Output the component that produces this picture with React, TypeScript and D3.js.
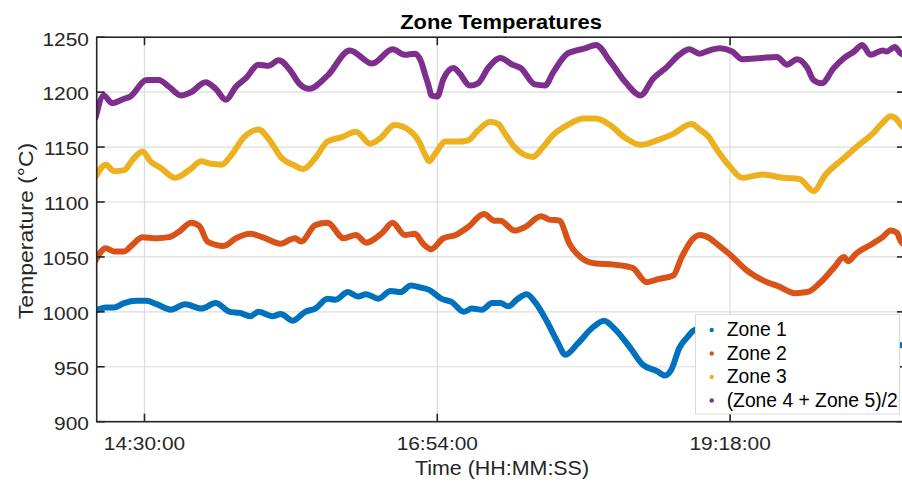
import React from "react";
import * as d3 from "d3";

// ---------- data ----------
const title = "Zone Temperatures";
const xLabel = "Time (HH:MM:SS)";
const yLabel = "Temperature (°C)";
const xTickLabels = ["14:30:00", "16:54:00", "19:18:00"];
const yTicks = [900, 950, 1000, 1050, 1100, 1150, 1200, 1250];
const xDomain = ["14:06:30", "20:44:01"];
const yDomain = [900, 1250];
const seriesNames = ["Zone 1", "Zone 2", "Zone 3", "(Zone 4 + Zone 5)/2"];
const seriesColors = ["#0072BD", "#D95319", "#EDB120", "#7E2F8E"];

const zone1: [string, number][] = [
  ["14:06", 1001], ["14:11", 1004], ["14:15", 1004], ["14:20", 1008], ["14:26", 1010],
  ["14:31", 1010], ["14:36", 1007], ["14:43", 1002], ["14:50", 1007], ["14:58", 1003],
  ["15:05", 1008], ["15:12", 1000], ["15:17", 999], ["15:22", 996], ["15:26", 1000],
  ["15:33", 996], ["15:37", 998], ["15:43", 992], ["15:49", 1000], ["15:54", 1003],
  ["16:00", 1012], ["16:04", 1011], ["16:10", 1018], ["16:15", 1014], ["16:19", 1016],
  ["16:25", 1012], ["16:31", 1019], ["16:36", 1018], ["16:41", 1024], ["16:46", 1022],
  ["16:50", 1020], ["16:56", 1012], ["17:01", 1009], ["17:07", 1000], ["17:11", 1003],
  ["17:16", 1002], ["17:21", 1008], ["17:25", 1008], ["17:29", 1005], ["17:33", 1011],
  ["17:38", 1016], ["17:42", 1009], ["17:48", 991], ["17:53", 973], ["17:57", 961],
  ["18:03", 971], ["18:10", 985], ["18:16", 992], ["18:21", 985], ["18:29", 967],
  ["18:35", 952], ["18:42", 946], ["18:46", 942], ["18:49", 947], ["18:53", 967],
  ["18:57", 977], ["19:00", 983], ["19:06", 986], ["19:14", 987], ["19:25", 986],
  ["19:40", 982], ["19:55", 978], ["20:10", 975], ["20:25", 972], ["20:40", 970],
  ["20:45", 969],
];

const zone2: [string, number][] = [
  ["14:06", 1047], ["14:11", 1058], ["14:15", 1055], ["14:20", 1055], ["14:24", 1061],
  ["14:29", 1068], ["14:36", 1067], ["14:42", 1068], ["14:47", 1073], ["14:53", 1081],
  ["14:57", 1078], ["15:01", 1064], ["15:09", 1060], ["15:15", 1067], ["15:22", 1071],
  ["15:28", 1068], ["15:37", 1062], ["15:42", 1066], ["15:44", 1067], ["15:47", 1064],
  ["15:54", 1079], ["16:00", 1081], ["16:08", 1067], ["16:14", 1070], ["16:19", 1063],
  ["16:27", 1072], ["16:32", 1081], ["16:38", 1070], ["16:43", 1071], ["16:47", 1062],
  ["16:51", 1057], ["16:57", 1067], ["17:03", 1070], ["17:09", 1077], ["17:17", 1089],
  ["17:22", 1083], ["17:25", 1083], ["17:32", 1074], ["17:37", 1077], ["17:45", 1087],
  ["17:49", 1084], ["17:54", 1083], ["17:59", 1062], ["18:05", 1049], ["18:12", 1044],
  ["18:21", 1043], ["18:30", 1040], ["18:37", 1027], ["18:43", 1030], ["18:50", 1033],
  ["18:54", 1049], ["18:59", 1065], ["19:03", 1070], ["19:08", 1067], ["19:10", 1064],
  ["19:18", 1052], ["19:26", 1038], ["19:35", 1028], ["19:42", 1023], ["19:50", 1017],
  ["19:56", 1018], ["20:02", 1026], ["20:09", 1040], ["20:14", 1050], ["20:16", 1046],
  ["20:20", 1053], ["20:28", 1062], ["20:33", 1068], ["20:37", 1074], ["20:40", 1072],
  ["20:42", 1064], ["20:45", 1060],
];

const zone3: [string, number][] = [
  ["14:06", 1123], ["14:11", 1134], ["14:15", 1128], ["14:20", 1129], ["14:24", 1138],
  ["14:29", 1146], ["14:33", 1137], ["14:38", 1131], ["14:45", 1122], ["14:52", 1129],
  ["14:58", 1137], ["15:02", 1135], ["15:08", 1134], ["15:12", 1141], ["15:19", 1159],
  ["15:26", 1166], ["15:32", 1155], ["15:37", 1141], ["15:44", 1133], ["15:48", 1130],
  ["15:54", 1140], ["16:00", 1155], ["16:07", 1159], ["16:14", 1164], ["16:21", 1153],
  ["16:26", 1158], ["16:33", 1170], ["16:41", 1164], ["16:45", 1155], ["16:48", 1143],
  ["16:50", 1137], ["16:53", 1144], ["16:58", 1155], ["17:04", 1155], ["17:09", 1156],
  ["17:14", 1165], ["17:20", 1173], ["17:24", 1171], ["17:27", 1163], ["17:32", 1150],
  ["17:41", 1141], ["17:46", 1150], ["17:51", 1161], ["17:58", 1170], ["18:06", 1176],
  ["18:12", 1176], ["18:19", 1170], ["18:26", 1159], ["18:34", 1152], ["18:42", 1156],
  ["18:50", 1162], ["18:59", 1171], ["19:03", 1166], ["19:08", 1158], ["19:10", 1152],
  ["19:18", 1132], ["19:24", 1122], ["19:34", 1125], ["19:44", 1122], ["19:52", 1121],
  ["19:59", 1110], ["20:05", 1125], ["20:14", 1140], ["20:22", 1153], ["20:28", 1162],
  ["20:33", 1172], ["20:37", 1178], ["20:40", 1175], ["20:42", 1170], ["20:45", 1166],
];

const zone45: [string, number][] = [
  ["14:06", 1177], ["14:10", 1197], ["14:14", 1190], ["14:20", 1194], ["14:23", 1196],
  ["14:31", 1211], ["14:37", 1211], ["14:42", 1205], ["14:48", 1197], ["14:53", 1200],
  ["15:00", 1209], ["15:05", 1203], ["15:10", 1193], ["15:15", 1205], ["15:20", 1213],
  ["15:26", 1225], ["15:31", 1224], ["15:36", 1229], ["15:42", 1219], ["15:46", 1208],
  ["15:51", 1203], ["16:00", 1215], ["16:11", 1238], ["16:22", 1226], ["16:32", 1239],
  ["16:38", 1234], ["16:43", 1235], ["16:46", 1228], ["16:48", 1216], ["16:50", 1204],
  ["16:51", 1197], ["16:54", 1196], ["16:57", 1212], ["17:02", 1222], ["17:05", 1217],
  ["17:10", 1206], ["17:14", 1208], ["17:19", 1222], ["17:25", 1231], ["17:31", 1225],
  ["17:35", 1222], ["17:42", 1207], ["17:47", 1206], ["17:51", 1218], ["17:58", 1235],
  ["18:07", 1240], ["18:12", 1243], ["18:19", 1228], ["18:27", 1208], ["18:34", 1197],
  ["18:40", 1212], ["18:47", 1223], ["18:53", 1234], ["18:58", 1239], ["19:03", 1235],
  ["19:08", 1238], ["19:13", 1240], ["19:19", 1237], ["19:24", 1230], ["19:33", 1231],
  ["19:41", 1232], ["19:46", 1225], ["19:51", 1230], ["19:56", 1222], ["19:59", 1211],
  ["20:03", 1208], ["20:09", 1222], ["20:14", 1231], ["20:19", 1237], ["20:23", 1243],
  ["20:27", 1234], ["20:33", 1238], ["20:35", 1237], ["20:39", 1241], ["20:42", 1235],
  ["20:45", 1233],
];

const allSeries = [zone1, zone2, zone3, zone45];

// ---------- layout ----------
const W = 902;
const H = 484;
const L = 96.7;
const R = 905;
const T = 37.2;
const B = 421.7;
const FONT = "'Liberation Sans', Arial, Helvetica, sans-serif";
const AX = "#262626";

const parseHMS = d3.timeParse("%H:%M:%S");
const parseT = (s: string) => parseHMS(s.length === 5 ? s + ":00" : s) as Date;

export default function App() {
  const x = d3.scaleTime().domain([parseT(xDomain[0]), parseT(xDomain[1])]).range([L, R]);
  const y = d3.scaleLinear().domain(yDomain).range([B, T]);
  const line = d3
    .line<[string, number]>()
    .x((d) => x(parseT(d[0])))
    .y((d) => y(d[1]))
    .curve(d3.curveMonotoneX);

  const xt = xTickLabels.map((s) => ({ s, px: x(parseT(s)) }));
  const tickLen = 8;

  const legX = 695.5;
  const legY = 314.5;
  const legW = 204;
  const legRow = 23.5;

  return (
    <svg
      width={W}
      height={H}
      viewBox={`0 0 ${W} ${H}`}
      style={{ position: "absolute", left: 0, top: 0, background: "#fff", display: "block" }}
    >
      <defs>
        <clipPath id="plotclip">
          <rect x={L} y={T} width={R - L} height={B - T} />
        </clipPath>
      </defs>
      <rect x={0} y={0} width={W} height={H} fill="#fff" />

      {/* grid */}
      <g stroke="#dcdcdc" strokeWidth={1.2}>
        {yTicks.slice(1, -1).map((v) => (
          <line key={"gy" + v} x1={L} x2={R} y1={y(v)} y2={y(v)} />
        ))}
        {xt.map((t) => (
          <line key={"gx" + t.s} x1={t.px} x2={t.px} y1={T} y2={B} />
        ))}
      </g>

      {/* series */}
      <g clipPath="url(#plotclip)" fill="none" strokeLinecap="round" strokeLinejoin="round">
        {allSeries.map((s, i) => (
          <path key={i} d={line(s) || ""} stroke={seriesColors[i]} strokeWidth={6} />
        ))}
      </g>

      {/* axes box and ticks */}
      <g stroke={AX} strokeWidth={1.6} fill="none">
        <rect x={L} y={T} width={R - L} height={B - T} />
        {yTicks.map((v) => (
          <g key={"ty" + v}>
            <line x1={L} x2={L + tickLen} y1={y(v)} y2={y(v)} />
            <line x1={R} x2={R - tickLen} y1={y(v)} y2={y(v)} />
          </g>
        ))}
        {xt.map((t) => (
          <g key={"tx" + t.s}>
            <line x1={t.px} x2={t.px} y1={B} y2={B - tickLen} />
            <line x1={t.px} x2={t.px} y1={T} y2={T + tickLen} />
          </g>
        ))}
      </g>

      {/* tick labels */}
      <g fontFamily={FONT} fontSize={19} fill={AX}>
        {yTicks.map((v) => (
          <text key={"ly" + v} transform={`translate(89,${y(v) + 8.3}) scale(1.1,1)`} textAnchor="end">
            {String(v)}
          </text>
        ))}
        {xt.map((t) => (
          <text key={"lx" + t.s} transform={`translate(${t.px},449.5) scale(1.1,1)`} textAnchor="middle">
            {t.s}
          </text>
        ))}
      </g>

      {/* axis labels and title */}
      <text
        transform={`translate(502,475) scale(1.045,1)`}
        textAnchor="middle"
        fontFamily={FONT}
        fontSize={20.5}
        fill={AX}
      >
        {xLabel}
      </text>
      <text
        transform={`translate(32.5,231) scale(1,1.12) rotate(-90)`}
        textAnchor="middle"
        fontFamily={FONT}
        fontSize={20.5}
        fill={AX}
      >
        {yLabel}
      </text>
      <text
        transform={`translate(501,29.3) scale(1.096,1)`}
        textAnchor="middle"
        fontFamily={FONT}
        fontSize={20}
        fontWeight="bold"
        fill="#000"
      >
        {title}
      </text>

      {/* legend */}
      <g>
        <rect x={legX} y={legY} width={legW} height={99.5} fill="#fff" stroke="#d9d9d9" strokeWidth={1} />
        {seriesNames.map((n, i) => {
          const by = 336 + i * legRow;
          return (
            <g key={n}>
              <circle cx={711.7} cy={by - 6} r={2.2} fill={seriesColors[i]} />
              <text
                transform={`translate(726.7,${by}) scale(1.0,1)`}
                fontFamily={FONT}
                fontSize={19.3}
                fill="#000"
              >
                {n}
              </text>
            </g>
          );
        })}
      </g>
    </svg>
  );
}
